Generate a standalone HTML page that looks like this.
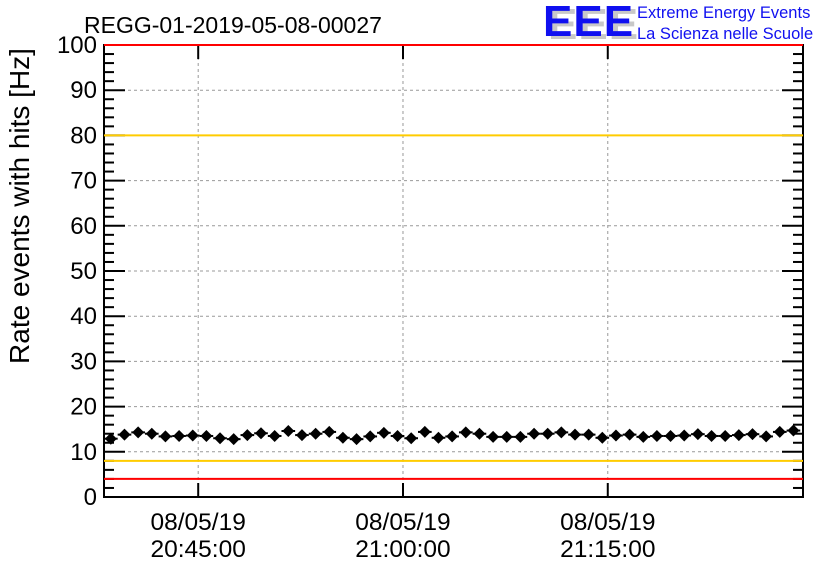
<!DOCTYPE html>
<html><head><meta charset="utf-8"><style>
body{margin:0;background:#fff;}
svg text{font-family:"Liberation Sans",sans-serif;}
</style></head><body>
<svg id="chart" width="836" height="572" xmlns="http://www.w3.org/2000/svg">
<rect width="836" height="572" fill="#fff"/>
<text x="84" y="33" font-size="23" fill="#000">REGG-01-2019-05-08-00027</text>
<g>
<text x="548" y="39" font-size="44" font-weight="bold" fill="#c8c8c8" letter-spacing="1">EEE</text>
<text x="543" y="36" font-size="44" font-weight="bold" fill="#1010f0" letter-spacing="1">EEE</text>
<text x="637" y="18" font-size="16.5" fill="#1010f0">Extreme Energy Events</text>
<text x="637" y="39" font-size="16.5" fill="#1010f0">La Scienza nelle Scuole</text>
</g>
<text transform="translate(29,206) rotate(-90)" text-anchor="middle" font-size="28" fill="#000">Rate events with hits [Hz]</text>
<g id="grid"></g><g id="axes"></g><g id="lines"></g><g id="marks"></g>
</svg>
<script>
const yTicks=[0,10,20,30,40,50,60,70,80,90,100];
const xTickMinutes=[0,15,30];
const xTickDates=["08/05/19","08/05/19","08/05/19"];
const xTickTimes=["20:45:00","21:00:00","21:15:00"];
const rates=[12.9,13.8,14.3,14.0,13.4,13.5,13.6,13.5,13.0,12.8,13.7,14.1,13.5,14.6,13.7,14.0,14.4,13.1,12.8,13.4,14.2,13.5,13.0,14.4,13.1,13.4,14.3,14.0,13.3,13.3,13.3,14.0,14.0,14.3,13.8,13.8,13.1,13.6,13.8,13.3,13.5,13.5,13.6,13.9,13.5,13.5,13.7,13.9,13.4,14.4,14.7];
const refLines=[{v:100,c:"#ff0000"},{v:80,c:"#ffcc00"},{v:8,c:"#ffcc00"},{v:4,c:"#ff0000"}];
const L=104,R=803,T=45,B=497,XMIN=-6.9,XMAX=44.3,FIRST=-6.4;
const sx=m=>L+(m-XMIN)/(XMAX-XMIN)*(R-L);
const sy=v=>B-v/100*(B-T);
const NS="http://www.w3.org/2000/svg";
function mk(tag,parent,attrs){const e=document.createElementNS(NS,tag);for(const k in attrs)e.setAttribute(k,attrs[k]);document.getElementById(parent).appendChild(e);return e;}
yTicks.forEach(v=>{if(v>0&&v<100){const g=mk('line','grid',{x1:L,x2:R,y1:sy(v),y2:sy(v),stroke:'#999','stroke-dasharray':'3,3'});

}
const t=mk('text','axes',{x:97,y:sy(v)+8,'text-anchor':'end','font-size':'24'});t.textContent=v;


mk('line','axes',{x1:L,x2:L+21,y1:sy(v),y2:sy(v),stroke:'#000','stroke-width':2});
mk('line','axes',{x1:R-21,x2:R,y1:sy(v),y2:sy(v),stroke:'#000','stroke-width':2});});
for(let v=2;v<100;v+=2){if(v%10){mk('line','axes',{x1:L,x2:L+10,y1:sy(v),y2:sy(v),stroke:'#000','stroke-width':2});mk('line','axes',{x1:R-10,x2:R,y1:sy(v),y2:sy(v),stroke:'#000','stroke-width':2});}}
xTickMinutes.forEach((m,i)=>{const x=sx(m);
const g=mk('line','grid',{x1:x,x2:x,y1:T,y2:B,stroke:'#999','stroke-dasharray':'3,3'});


mk('line','axes',{x1:x,x2:x,y1:B-14,y2:B,stroke:'#000','stroke-width':2});
mk('line','axes',{x1:x,x2:x,y1:T,y2:T+14,stroke:'#000','stroke-width':2});
const a=mk('text','axes',{x:x,y:530,'text-anchor':'middle','font-size':'24.5'});a.textContent=xTickDates[i];


const b=mk('text','axes',{x:x,y:557,'text-anchor':'middle','font-size':'24.5'});b.textContent=xTickTimes[i];

});
mk('rect','axes',{x:L,y:T,width:R-L,height:B-T,fill:'none',stroke:'#000','stroke-width':2});
refLines.forEach(r=>{const l=mk('line','lines',{x1:L,x2:R,y1:sy(r.v),y2:sy(r.v),stroke:r.c,'stroke-width':2});

});
rates.forEach((v,i)=>{const m=FIRST+i;const x=sx(m),y=sy(v);const hw=(sx(m+0.5)-sx(m));
const l=mk('line','marks',{x1:Math.max(L,x-hw),x2:Math.min(R,x+hw),y1:y,y2:y,stroke:'#000','stroke-width':2});


const p=mk('path','marks',{d:`M${x} ${y-6}L${x+6} ${y}L${x} ${y+6}L${x-6} ${y}Z`,fill:'#000'});

});
</script>
</body></html>
